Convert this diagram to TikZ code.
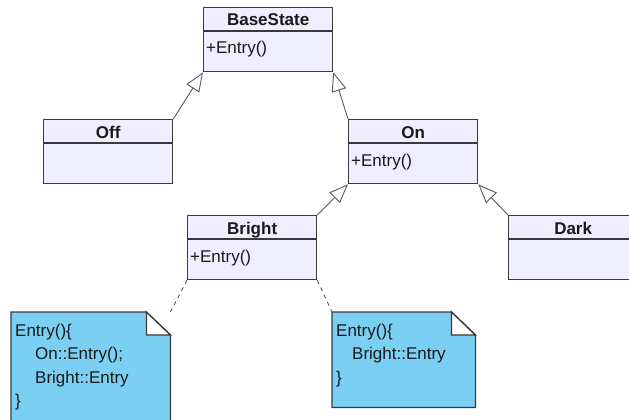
\documentclass[tikz,border=0pt]{standalone}
\usepackage{fontspec}
\setmainfont{Liberation Sans}
\usetikzlibrary{arrows.meta}

\definecolor{classfill}{RGB}{238,238,255}
\definecolor{boxline}{RGB}{58,58,58}
\definecolor{linegray}{RGB}{90,90,90}
\definecolor{notefill}{RGB}{122,207,243}
\definecolor{txt}{RGB}{25,25,25}

\begin{document}
\begin{tikzpicture}[x=1pt,y=-1pt,
  classbox/.style={draw=boxline, fill=classfill, line width=1.3pt,
    minimum width=129pt, minimum height=64pt, inner sep=0pt, anchor=north west},
  divider/.style={draw=boxline, line width=1.3pt},
  title/.style={font=\bfseries\fontsize{17}{20}\selectfont, text=txt, inner sep=0pt, anchor=base},
  member/.style={font=\fontsize{17}{20}\selectfont, text=txt, inner sep=0pt, anchor=base west},
  inherit/.style={draw=linegray, line width=0.9pt,
    -{Triangle[open, length=19pt, width=15pt, fill=white]}},
  anchorline/.style={draw=linegray, line width=0.9pt, dash pattern=on 4pt off 4pt},
  notebox/.style={minimum width=#1, minimum height=130pt, inner sep=0pt, anchor=north west},
  noteshape/.style={draw=boxline, fill=notefill, line width=1.3pt},
  foldshape/.style={draw=boxline, fill=white, line width=1.3pt, line join=miter},
  notetext/.style={font=\fontsize{17}{20}\selectfont, text=txt, inner sep=0pt, anchor=base west}]

\path[use as bounding box, clip] (0,0) rectangle (629,420);
\fill[white] (0,0) rectangle (629,420);

% ---------- classes ----------
\node[classbox] (base) at (203,7) {};
\node[classbox] (off) at (43,119) {};
\node[classbox] (on) at (348,119) {};
\node[classbox] (bright) at (187,215) {};
\node[classbox] (dark) at (508,215) {};

\foreach \c in {base,off,on,bright,dark}{
  \draw[divider] ([yshift=-24pt]\c.north west) -- ([yshift=-24pt]\c.north east);
}

\node[title] (base-t) at ([yshift=-19pt]base.north) {BaseState};
\node[title] (off-t) at ([yshift=-19pt]off.north) {Off};
\node[title] (on-t) at ([yshift=-19pt]on.north) {On};
\node[title] (bright-t) at ([yshift=-19pt]bright.north) {Bright};
\node[title] (dark-t) at ([yshift=-19pt]dark.north) {Dark};

\node[member] (base-m) at ([xshift=3pt,yshift=-47pt]base.north west) {+Entry()};
\node[member] (on-m) at ([xshift=3pt,yshift=-47pt]on.north west) {+Entry()};
\node[member] (bright-m) at ([xshift=3pt,yshift=-47pt]bright.north west) {+Entry()};

% ---------- generalizations ----------
\draw[inherit] (off.north east) -- (base.south west);
\draw[inherit] (on.north west) -- (base.south east);
\draw[inherit] (bright.north east) -- (on.south west);
\draw[inherit] (dark.north west) -- (on.south east);

% ---------- notes ----------
\node[notebox=159pt] (noteA) at (11,312) {};
\node[notebox=143pt, minimum height=95pt] (noteB) at (332,312) {};

\foreach \n in {noteA,noteB}{
  \draw[noteshape] (\n.north west) -- ([xshift=-24pt]\n.north east)
    -- ([yshift=-23pt]\n.north east) -- (\n.south east) -- (\n.south west) -- cycle;
  \draw[foldshape] ([xshift=-24pt]\n.north east) -- ([xshift=-24pt,yshift=-23pt]\n.north east)
    -- ([yshift=-23pt]\n.north east) -- cycle;
}

\node[notetext] (a1) at (15,336) {Entry()\{};
\node[notetext] (a2) at (35,359.5) {On::Entry();};
\node[notetext] (a3) at (35,383) {Bright::Entry};
\node[notetext] (a4) at (15,406.5) {\}};

\node[notetext] (b1) at (336,336) {Entry()\{};
\node[notetext] (b2) at (352,359.5) {Bright::Entry};
\node[notetext] (b3) at (336,383) {\}};

\draw[anchorline] (bright.south west) -- (noteA.north east);
\draw[anchorline] (bright.south east) -- (noteB.north west);

\end{tikzpicture}
\end{document}
